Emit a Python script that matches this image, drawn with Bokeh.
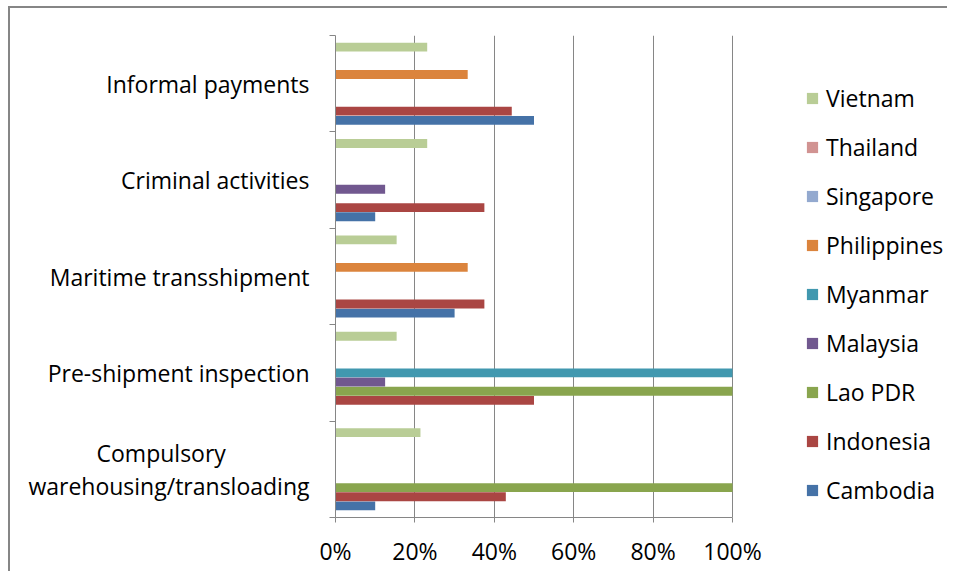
from bokeh.plotting import figure
from bokeh.models import (Range1d, FixedTicker, PrintfTickFormatter, Legend, LegendItem,
                          ColumnDataSource)
from bokeh.embed import file_html
from bokeh.resources import INLINE

# ---- data ----
NB = "\u00a0"
categories = ["Compulsory" + NB * 14 + "\nwarehousing/transloading", "Pre-shipment inspection",
              "Maritime transshipment", "Criminal activities", "Informal payments"]
countries = ["Cambodia", "Indonesia", "Lao PDR", "Malaysia", "Myanmar",
             "Philippines", "Singapore", "Thailand", "Vietnam"]
cambodia = [10, 0, 30, 10, 50]
indonesia = [42.9, 50, 37.5, 37.5, 44.4]
lao_pdr = [100, 100, 0, 0, 0]
malaysia = [0, 12.5, 0, 12.5, 0]
myanmar = [0, 100, 0, 0, 0]
philippines = [0, 0, 33.3, 0, 33.3]
singapore = [0, 0, 0, 0, 0]
thailand = [0, 0, 0, 0, 0]
vietnam = [21.4, 15.4, 15.4, 23.1, 23.1]
series = [cambodia, indonesia, lao_pdr, malaysia, myanmar, philippines, singapore, thailand, vietnam]
colors = ["#4572A7", "#AA4643", "#89A54E", "#71588F", "#4198AF",
          "#DB843D", "#93A9CF", "#D19392", "#B9CD96"]
x_ticks = [0, 20, 40, 60, 80, 100]

FONT = "Open Sans"
FS = "23px"
GRID = "#868686"

PLOT_W = 397      # width of the bar area (0..100%)
FRAME_W = 612     # frame incl. legend area to the right
x_max = x_ticks[-1]

p = figure(frame_width=FRAME_W, frame_height=482, output_backend="svg", toolbar_location=None,
           x_range=Range1d(0, x_max * FRAME_W / PLOT_W), y_range=Range1d(0, len(categories)),
           min_border_left=325, min_border_top=27, min_border_right=0, min_border_bottom=54)
p.outline_line_color = None
p.styles = {"border-left": "2px solid #868686", "border-top": "2px solid #868686",
            "margin-left": "8px", "margin-top": "6px"}

slot = 0.095
gap = (1 - slot * len(countries)) / 2
items = []
for i, (name, vals, col) in enumerate(zip(countries, series, colors)):
    ys = [k + gap + (i + 0.5) * slot for k in range(len(categories))]
    src = ColumnDataSource(dict(y=ys, right=vals))
    r = p.hbar(y="y", left=0, right="right", height=slot * 0.97, source=src,
               fill_color=col, line_color=None)
    items.append(LegendItem(label=name, renderers=[r]))

# x axis
p.xaxis.ticker = FixedTicker(ticks=x_ticks)
p.xaxis.bounds = (0, x_max)
p.xaxis.formatter = PrintfTickFormatter(format="%d%%")
p.xaxis.major_tick_out = 5
p.xaxis.major_tick_in = 0
p.xaxis.minor_tick_out = 0
p.xaxis.axis_line_color = GRID
p.xaxis.major_tick_line_color = GRID
p.xaxis.major_label_standoff = 12
p.xaxis.major_label_text_font = FONT
p.xaxis.major_label_text_font_size = FS
p.xaxis.major_label_text_color = "black"

# y axis
centers = [k + 0.5 for k in range(len(categories))]
p.yaxis.ticker = FixedTicker(ticks=centers, minor_ticks=list(range(len(categories) + 1)))
p.yaxis.major_label_overrides = {c: lab for c, lab in zip(centers, categories)}
p.yaxis.major_tick_out = 0
p.yaxis.major_tick_in = 0
p.yaxis.minor_tick_out = 6
p.yaxis.minor_tick_in = 0
p.yaxis.minor_tick_line_color = GRID
p.yaxis.axis_line_color = GRID
p.yaxis.major_label_standoff = 20
p.yaxis.major_label_text_font = FONT
p.yaxis.major_label_text_font_size = FS
p.yaxis.major_label_text_line_height = 1.05
p.yaxis.major_label_text_color = "black"

p.xgrid.grid_line_color = GRID
p.xgrid.grid_line_width = 1
p.ygrid.grid_line_color = None

legend = Legend(items=list(reversed(items)), location=(470, 11))
legend.border_line_color = None
legend.background_fill_alpha = 0
legend.padding = 0
legend.margin = 0
legend.glyph_width = 14
legend.glyph_height = 14
legend.label_standoff = 7
legend.label_text_font = FONT
legend.label_text_font_size = FS
legend.label_text_color = "black"
legend.label_height = 24
legend.spacing = 17
p.add_layout(legend)

open("out.html", "w").write(file_html(p, INLINE))
